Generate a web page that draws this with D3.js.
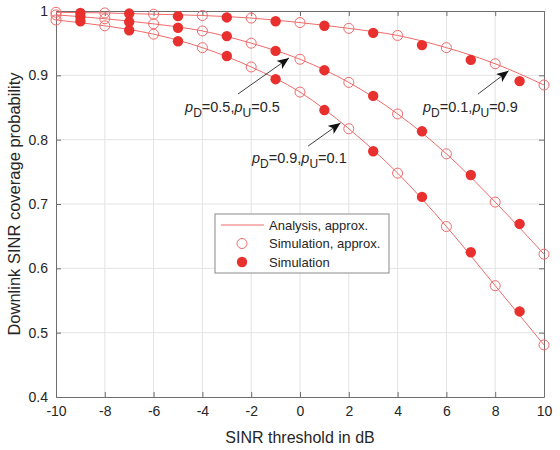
<!DOCTYPE html>
<html>
<head>
<meta charset="utf-8">
<script src="https://cdn.jsdelivr.net/npm/d3@7"></script>
<style>
  body { margin: 0; background: #fff; }
  svg { display: block; font-family: "Liberation Sans", Arial, sans-serif; }
</style>
</head>
<body>
<div id="chart"></div>
<script>
// SINR thresholds (dB)
const xEven = [-10, -8, -6, -4, -2, 0, 2, 4, 6, 8, 10];
const xOdd = [-9, -7, -5, -3, -1, 1, 3, 5, 7, 9];

// analysis / approx simulation (even thresholds)
const approxA = [0.998, 0.997, 0.995, 0.993, 0.989, 0.982, 0.973, 0.962, 0.943, 0.918, 0.885]; // pD=0.1, pU=0.9
const approxB = [0.994, 0.988, 0.980, 0.969, 0.950, 0.925, 0.889, 0.840, 0.778, 0.703, 0.622]; // pD=0.5, pU=0.5
const approxC = [0.986, 0.977, 0.964, 0.943, 0.913, 0.874, 0.817, 0.748, 0.665, 0.573, 0.481]; // pD=0.9, pU=0.1

// full simulation (odd thresholds)
const simA = [0.997, 0.996, 0.992, 0.990, 0.984, 0.977, 0.966, 0.947, 0.924, 0.891];
const simB = [0.991, 0.983, 0.974, 0.961, 0.938, 0.908, 0.868, 0.813, 0.745, 0.669];
const simC = [0.984, 0.970, 0.953, 0.930, 0.894, 0.846, 0.782, 0.711, 0.625, 0.533];

const xTicks = [-10, -8, -6, -4, -2, 0, 2, 4, 6, 8, 10];
const yTicks = [0.4, 0.5, 0.6, 0.7, 0.8, 0.9, 1];

const legendLabels = ["Analysis, approx.", "Simulation, approx.", "Simulation"];

// annotations: label pD, pU, text position, arrow tail and tip (data coords)
const notes = [
  {pd: "0.5", pu: "0.5", tx: -4.71, ty: 0.843, x0: -2.54, y0: 0.871, x1: -0.45, y1: 0.927},
  {pd: "0.1", pu: "0.9", tx: 5.04, ty: 0.843, x0: 7.30, y0: 0.871, x1: 8.55, y1: 0.907},
  {pd: "0.9", pu: "0.1", tx: -1.97, ty: 0.764, x0: 0.33, y0: 0.790, x1: 1.66, y1: 0.826}
];

const W = 560, H = 450;
const margin = {left: 56, top: 11, right: 16, bottom: 53};
const width = W - margin.left - margin.right;
const height = H - margin.top - margin.bottom;

const red = "#e8302e";
const lineRed = "#f06a6a";
const axisCol = "#6e6e6e";
const textCol = "#262626";

const svg = d3.select("#chart").append("svg")
  .attr("width", W).attr("height", H);

const g = svg.append("g").attr("transform", `translate(${margin.left},${margin.top})`);

const x = d3.scaleLinear().domain([-10, 10]).range([0, width]);
const y = d3.scaleLinear().domain([0.4, 1]).range([height, 0]);

// grid
g.append("g").selectAll("line").data(xTicks.slice(1, -1)).join("line")
  .attr("x1", d => x(d)).attr("x2", d => x(d))
  .attr("y1", 0).attr("y2", height)
  .attr("stroke", "#e3e3e3").attr("stroke-width", 1);
g.append("g").selectAll("line").data(yTicks.slice(1, -1)).join("line")
  .attr("y1", d => y(d)).attr("y2", d => y(d))
  .attr("x1", 0).attr("x2", width)
  .attr("stroke", "#e3e3e3").attr("stroke-width", 1);

// axes (ticks point inward)
function styleAxis(sel) {
  sel.select(".domain").attr("stroke", axisCol);
  sel.selectAll(".tick line").attr("stroke", axisCol);
  sel.selectAll(".tick text").attr("fill", textCol).style("font-size", "14px");
}
g.append("g").attr("transform", `translate(0,${height})`)
  .call(d3.axisBottom(x).tickValues(xTicks).tickFormat(d => String(d)).tickSizeInner(-5).tickSizeOuter(0).tickPadding(9))
  .call(styleAxis);
g.append("g")
  .call(d3.axisLeft(y).tickValues(yTicks).tickFormat(d => d === 1 ? "1" : d.toFixed(1)).tickSizeInner(-5).tickSizeOuter(0).tickPadding(8))
  .call(styleAxis);
g.append("g")
  .call(d3.axisTop(x).tickValues(xTicks).tickFormat("").tickSizeInner(-5).tickSizeOuter(0))
  .call(styleAxis);
g.append("g").attr("transform", `translate(${width},0)`)
  .call(d3.axisRight(y).tickValues(yTicks).tickFormat("").tickSizeInner(-5).tickSizeOuter(0))
  .call(styleAxis);

// curves
const line = d3.line().x(d => x(d[0])).y(d => y(d[1])).curve(d3.curveMonotoneX);
[approxA, approxB, approxC].forEach(vals => {
  const pts = xEven.map((t, i) => [t, vals[i]]);
  g.append("path").datum(pts)
    .attr("d", line).attr("fill", "none")
    .attr("stroke", lineRed).attr("stroke-width", 1);
  g.append("g").selectAll("circle").data(pts).join("circle")
    .attr("cx", d => x(d[0])).attr("cy", d => y(d[1])).attr("r", 5)
    .attr("fill", "none").attr("stroke", lineRed).attr("stroke-width", 1);
});
[simA, simB, simC].forEach(vals => {
  const pts = xOdd.map((t, i) => [t, vals[i]]);
  g.append("g").selectAll("circle").data(pts).join("circle")
    .attr("cx", d => x(d[0])).attr("cy", d => y(d[1])).attr("r", 5.2)
    .attr("fill", red);
});

// annotations
svg.append("defs").append("marker")
  .attr("id", "head").attr("viewBox", "0 0 12 10")
  .attr("refX", 12).attr("refY", 5)
  .attr("markerWidth", 12).attr("markerHeight", 10)
  .attr("markerUnits", "userSpaceOnUse")
  .attr("orient", "auto")
  .append("path").attr("d", "M0,0 L12,5 L0,10 L3,5 Z").attr("fill", "#111");

notes.forEach(n => {
  g.append("line")
    .attr("x1", x(n.x0)).attr("y1", y(n.y0))
    .attr("x2", x(n.x1)).attr("y2", y(n.y1))
    .attr("stroke", "#111").attr("stroke-width", 0.8)
    .attr("marker-end", "url(#head)");
  const t = g.append("text")
    .attr("x", x(n.tx)).attr("y", y(n.ty))
    .attr("fill", textCol).style("font-size", "14.5px");
  t.append("tspan").attr("font-style", "italic").text("p");
  t.append("tspan").attr("dy", 5).style("font-size", "12px").text("D");
  t.append("tspan").attr("dy", -5).text(`=${n.pd},`);
  t.append("tspan").attr("font-style", "italic").text("p");
  t.append("tspan").attr("dy", 5).style("font-size", "12px").text("U");
  t.append("tspan").attr("dy", -5).text(`=${n.pu}`);
});

// legend
const lg = svg.append("g").attr("transform", "translate(215,214)");
lg.append("rect").attr("width", 174).attr("height", 59)
  .attr("fill", "#fff").attr("stroke", "#8a8a8a").attr("stroke-width", 1);
const rowY = [11, 29.5, 48];
lg.append("line").attr("x1", 6).attr("x2", 49).attr("y1", rowY[0]).attr("y2", rowY[0])
  .attr("stroke", lineRed).attr("stroke-width", 1);
lg.append("circle").attr("cx", 27).attr("cy", rowY[1]).attr("r", 5)
  .attr("fill", "none").attr("stroke", lineRed).attr("stroke-width", 1);
lg.append("circle").attr("cx", 27).attr("cy", rowY[2]).attr("r", 5.2).attr("fill", red);
lg.selectAll("text").data(legendLabels).join("text")
  .attr("x", 54).attr("y", (d, i) => rowY[i] + 4.5)
  .attr("fill", textCol).style("font-size", "13px")
  .text(d => d);

// axis titles
svg.append("text")
  .attr("x", margin.left + width / 2).attr("y", 443)
  .attr("text-anchor", "middle").attr("fill", textCol)
  .style("font-size", "16px")
  .text("SINR threshold in dB");
svg.append("text")
  .attr("transform", `translate(20,${margin.top + height / 2}) rotate(-90)`)
  .attr("text-anchor", "middle").attr("fill", textCol)
  .style("font-size", "16.5px")
  .text("Downlink SINR coverage probability");
</script>
</body>
</html>
